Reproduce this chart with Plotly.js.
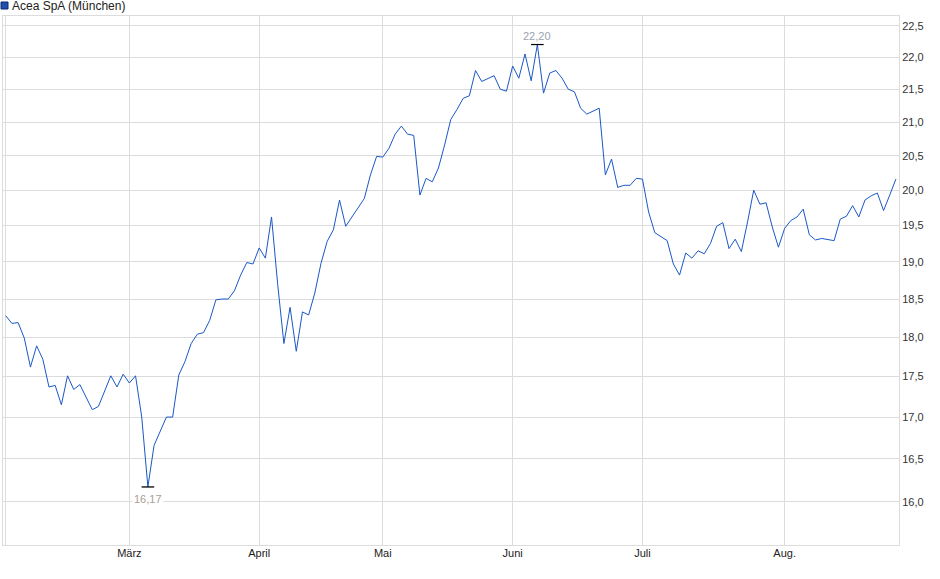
<!DOCTYPE html>
<html>
<head>
<meta charset="utf-8">
<script src="https://cdn.plot.ly/plotly-3.0.1.min.js"></script>
<style>
  body { margin: 0; background: #fff; }
  #graph { width: 940px; height: 579px; }
</style>
</head>
<body>
<div id="graph"></div>
<script>
// closing prices, one per trading day (Feb - Aug)
const prices = [
  18.28, 18.18, 18.19, 17.99, 17.62, 17.89, 17.72, 17.37, 17.39, 17.15,
  17.51, 17.34, 17.40, 17.25, 17.09, 17.13, 17.33, 17.51, 17.37, 17.53,
  17.42, 17.51, 17.00, 16.17, 16.66, 16.82, 17.00, 17.00, 17.52, 17.69,
  17.92, 18.04, 18.06, 18.22, 18.49, 18.50, 18.50, 18.61, 18.82, 18.99,
  18.97, 19.19, 19.05, 19.62, 18.69, 17.92, 18.39, 17.82, 18.33, 18.29,
  18.58, 18.98, 19.28, 19.44, 19.86, 19.49, 19.62, 19.76, 19.88, 20.22,
  20.49, 20.48, 20.61, 20.82, 20.94, 20.82, 20.80, 19.93, 20.17, 20.12,
  20.32, 20.66, 21.04, 21.19, 21.36, 21.40, 21.79, 21.62, 21.66, 21.71,
  21.50, 21.47, 21.86, 21.67, 22.05, 21.63, 22.20, 21.44, 21.75, 21.79,
  21.67, 21.50, 21.46, 21.21, 21.12, 21.16, 21.21, 20.22, 20.45, 20.04,
  20.07, 20.07, 20.17, 20.16, 19.69, 19.40, 19.34, 19.29, 18.97, 18.82,
  19.12, 19.05, 19.15, 19.11, 19.25, 19.49, 19.54, 19.18, 19.31, 19.14,
  19.55, 20.00, 19.80, 19.82, 19.48, 19.20, 19.46, 19.57, 19.62, 19.73,
  19.37, 19.30, 19.32, 19.31, 19.29, 19.59, 19.63, 19.78, 19.62, 19.86,
  19.92, 19.96, 19.71, 19.93, 20.16
];

// first trading day of each month (index into prices) and its label
const monthTicks = [0, 20, 41, 61, 82, 103, 126];
const monthLabels = ['', 'März', 'April', 'Mai', 'Juni', 'Juli', 'Aug.'];

const priceTicks = [16, 16.5, 17, 17.5, 18, 18.5, 19, 19.5, 20, 20.5, 21, 21.5, 22, 22.5];

const seriesName = 'Acea SpA (München)';

document.addEventListener('DOMContentLoaded', function(event)
{
  displayPlot('graph');
});

function displayPlot(divPlot)
{
  let days = prices.map((p, i) => i);

  let maxIdx = prices.indexOf(Math.max(...prices));
  let minIdx = prices.indexOf(Math.min(...prices));

  let pricePlot = {
    x: days,
    y: prices,
    type: 'scatter',
    mode: 'lines',
    line: { color: '#1a58c6', width: 1 },
    hoverinfo: 'skip'
  };

  // little black bars at the high and the low
  let extremesPlot = {
    x: [maxIdx, minIdx],
    y: [prices[maxIdx], prices[minIdx]],
    type: 'scatter',
    mode: 'markers',
    marker: { symbol: 'line-ew', size: 9, line: { color: '#000', width: 1.3 } },
    hoverinfo: 'skip'
  };

  let gray = '#dcdcdc';

  let layout =
  {
    width: 940,
    height: 579,
    margin: { l: 3, r: 41, t: 16, b: 34 },
    paper_bgcolor: '#fff',
    plot_bgcolor: '#fff',
    showlegend: false,
    separators: ',.',
    font: { family: 'Liberation Sans, Arial, sans-serif', size: 11, color: '#222' },

    xaxis:
    {
      range: [-0.44, 144.5],
      tickvals: monthTicks,
      ticktext: monthLabels,
      showgrid: true,
      gridcolor: gray,
      zeroline: false,
      showline: true,
      linecolor: gray,
      mirror: true,
      ticks: '',
      ticklabelstandoff: -2,
      tickfont: { size: 11, color: '#222' }
    },
    yaxis:
    {
      type: 'log',
      side: 'right',
      range: [1.19065, 1.35522],
      tickvals: priceTicks,
      tickformat: '.1f',
      showgrid: true,
      gridcolor: gray,
      zeroline: false,
      showline: true,
      linecolor: gray,
      mirror: true,
      ticks: '',
      tickfont: { size: 11, color: '#333' }
    },

    shapes: [
      {
        type: 'rect',
        xref: 'paper', yref: 'paper',
        xsizemode: 'pixel', ysizemode: 'pixel',
        xanchor: 0, yanchor: 1,
        x0: -2, x1: 5, y0: 7, y1: 14,
        fillcolor: '#1f50b0',
        line: { color: '#0a2a70', width: 1 }
      }
    ],

    annotations: [
      {
        text: seriesName,
        xref: 'paper', yref: 'paper',
        x: 0, y: 1,
        xanchor: 'left', yanchor: 'middle',
        xshift: 7, yshift: 10,
        showarrow: false,
        font: { size: 12, color: '#222' }
      },
      {
        text: prices[maxIdx].toFixed(2).replace('.', ','),
        xref: 'x', yref: 'y',
        x: maxIdx, y: Math.log10(prices[maxIdx]),
        yanchor: 'bottom', yshift: 1,
        showarrow: false,
        bgcolor: '#fff',
        font: { size: 11, color: '#9aa3b0' }
      },
      {
        text: prices[minIdx].toFixed(2).replace('.', ','),
        xref: 'x', yref: 'y',
        x: minIdx, y: Math.log10(prices[minIdx]),
        yanchor: 'top', yshift: -4,
        showarrow: false,
        bgcolor: '#fff',
        font: { size: 11, color: '#a89e94' }
      }
    ]
  };

  Plotly.newPlot(divPlot, [pricePlot, extremesPlot], layout, { displayModeBar: false, staticPlot: true });
}
</script>
</body>
</html>
